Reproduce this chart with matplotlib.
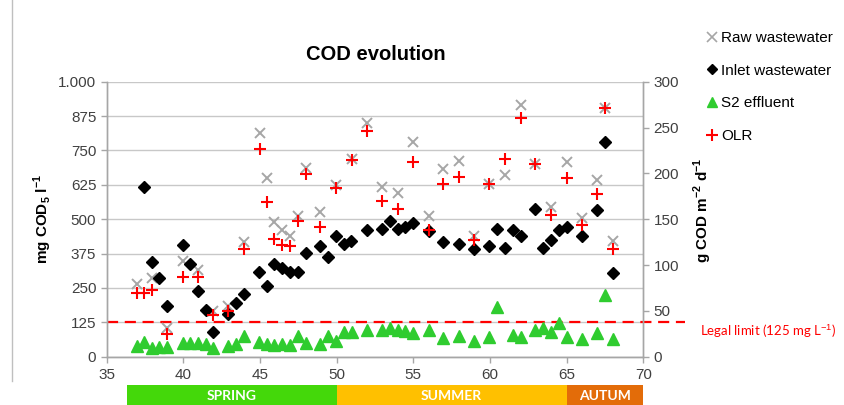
import matplotlib
matplotlib.use("Agg")
import matplotlib.pyplot as plt
from matplotlib.lines import Line2D

# ---------------- data ----------------
raw_x = [36.96, 37.93, 38.91, 39.96, 40.98, 41.96, 42.93, 43.96, 45.0, 45.48, 45.93, 46.45,
         46.96, 47.48, 48.0, 48.93, 49.96, 50.98, 51.96, 52.96, 54.0, 55.0, 56.0, 56.96,
         57.96, 58.96, 59.96, 60.96, 62.0, 62.96, 64.0, 65.0, 66.0, 66.96, 67.5, 68.05]
raw_y = [265, 286, 103, 349, 315, 168, 183, 418, 812, 649, 489, 459,
         440, 512, 687, 527, 625, 718, 849, 618, 596, 782, 512, 683,
         713, 440, 628, 662, 914, 701, 546, 709, 505, 643, 903, 422]

inlet_x = [37.43, 37.93, 38.43, 38.95, 39.96, 40.43, 40.93, 41.46, 41.96, 42.93, 43.43, 43.96,
           44.96, 45.48, 45.93, 46.45, 46.96, 47.45, 48.0, 48.93, 49.43, 49.96, 50.46, 50.96,
           51.96, 52.96, 53.48, 54.0, 54.48, 55.0, 56.0, 56.96, 57.96, 58.96, 59.96, 60.48,
           60.96, 61.48, 62.0, 62.96, 63.48, 64.0, 64.5, 65.0, 66.0, 66.96, 67.5, 68.05]
inlet_y = [616, 346, 287, 183, 406, 337, 239, 169, 89, 155, 194, 227,
           307, 256, 337, 322, 309, 307, 376, 403, 364, 440, 410, 420,
           461, 466, 492, 466, 473, 485, 456, 418, 410, 393, 404, 466,
           394, 460, 440, 538, 396, 424, 462, 473, 440, 533, 780, 305]

s2_x = [36.96, 37.43, 37.93, 38.43, 38.95, 39.96, 40.43, 40.93, 41.46, 41.96, 42.93, 43.43,
        43.96, 44.96, 45.46, 45.93, 46.45, 46.96, 47.48, 48.0, 48.93, 49.43, 49.96, 50.48,
        50.98, 51.96, 52.96, 53.48, 54.0, 54.48, 55.0, 56.0, 56.96, 57.96, 58.96, 59.96,
        60.48, 61.48, 62.0, 62.96, 63.48, 64.0, 64.53, 65.0, 66.0, 66.96, 67.5, 68.05]
s2_y = [40, 52, 30, 36, 36, 51, 51, 51, 45, 30, 40, 45,
        76, 55, 45, 43, 45, 43, 75, 49, 45, 76, 58, 91,
        90, 97, 97, 103, 97, 95, 87, 97, 69, 75, 58, 70,
        180, 78, 73, 97, 103, 89, 124, 73, 63, 85, 224, 63]

olr_x = [36.96, 37.43, 37.93, 38.91, 39.96, 40.98, 41.96, 42.93, 43.96, 45.0, 45.48, 45.93,
         46.45, 46.96, 47.48, 48.0, 48.93, 49.96, 50.98, 51.96, 52.96, 54.0, 55.0, 56.0,
         56.96, 57.96, 58.96, 59.96, 60.96, 62.0, 62.96, 64.0, 65.0, 66.0, 66.96, 67.5, 68.05]
olr_y = [69, 69, 73, 25, 87, 87, 45, 50, 118, 227, 169, 128,
         122, 121, 148, 199, 142, 184, 215, 246, 170, 161, 212, 138,
         188, 196, 127, 188, 216, 260, 210, 155, 195, 144, 177, 271, 117]

legal_limit = 125
legal_label = "Legal limit (125 mg L$^{-1}$)"

left_ticks = [0, 125, 250, 375, 500, 625, 750, 875, 1000]
left_tick_labels = ["0", "125", "250", "375", "500", "625", "750", "875", "1.000"]
right_ticks = [0, 50, 100, 150, 200, 250, 300]
x_ticks = [35, 40, 45, 50, 55, 60, 65, 70]

season_names = ["SPRING", "SUMMER", "AUTUM"]
season_start = [36.35, 50, 65]
season_end = [50, 65, 70]
season_colors = ["#44d80a", "#ffc000", "#e36c09"]

# ---------------- style ----------------
plt.rcParams['font.family'] = ['Liberation Sans', 'DejaVu Sans']
plt.rcParams['mathtext.fontset'] = 'custom'
plt.rcParams['mathtext.rm'] = 'Liberation Sans'
plt.rcParams['mathtext.bf'] = 'Liberation Sans:bold'
tick_col = "#404040"
axis_col = "#a6a6a6"
grid_col = "#c8c8c8"

fig = plt.figure(figsize=(8.45, 4.05), dpi=100)
L, B, W, H = 106.7 / 845, 1 - 356.7 / 405, (643.3 - 106.7) / 845, (356.7 - 81.7) / 405
ax = fig.add_axes([L, B, W, H])
ax2 = ax.twinx()

ax.set_xlim(35, 70)
ax.set_ylim(0, 1000)
ax2.set_ylim(0, 300)

ax.set_xticks(x_ticks)
ax.set_yticks(left_ticks)
ax.set_yticklabels(left_tick_labels)
ax2.set_yticks(right_ticks)

for a in (ax, ax2):
    a.spines['top'].set_visible(False)
    for s in ('left', 'right', 'bottom'):
        a.spines[s].set_color(axis_col)
        a.spines[s].set_linewidth(1.0)
    a.tick_params(colors=axis_col, labelcolor=tick_col, labelsize=11, length=4, width=1)
ax.tick_params(axis='x', pad=4)

ax.yaxis.grid(True, color=grid_col, linewidth=1.0)
ax.set_axisbelow(True)

ax.plot(raw_x, raw_y, linestyle='none', marker='x', markersize=7.5, mew=1.4,
        color="#a6a6a6", zorder=3)
ax.plot(inlet_x, inlet_y, linestyle='none', marker='D', markersize=6.3,
        color="black", zorder=3)
ax.plot(s2_x, s2_y, linestyle='none', marker='^', markersize=8,
        color="#2fcc2f", zorder=3)
ax2.plot(olr_x, olr_y, linestyle='none', marker='+', markersize=8, mew=1.5,
         color="#ff0000", zorder=4)

# legal limit
ax.plot([35, 72.7], [legal_limit, legal_limit], linestyle=(0, (5, 3)), color="#ff0000",
        linewidth=1.6, clip_on=False, zorder=2)
fig.text(700 / 845, 1 - 331 / 405, legal_label, color="#ff0000", fontsize=9.5,
         family=['Lato', 'DejaVu Sans'], va='center', ha='left')

# title & axis labels
fig.text(376 / 845, 1 - 55 / 405, "COD evolution", fontsize=14.5, fontweight='bold',
         ha='center', va='center', color='black')
fig.text(43 / 845, 1 - 219 / 405, r"mg COD$_\mathbf{5}$ l$^\mathbf{-1}$", rotation=90,
         fontsize=11, fontweight='bold', ha='center', va='center')
fig.text(703 / 845, 1 - 210 / 405, r"g COD m$^\mathbf{-2}$ d$^\mathbf{-1}$", rotation=90,
         fontsize=11, fontweight='bold', ha='center', va='center')

# legend
handles = [
    Line2D([], [], linestyle='none', marker='x', markersize=7, mew=1.2, color="#a6a6a6"),
    Line2D([], [], linestyle='none', marker='D', markersize=5.5, color="black"),
    Line2D([], [], linestyle='none', marker='^', markersize=7.5, color="#2fcc2f"),
    Line2D([], [], linestyle='none', marker='+', markersize=8, mew=1.5, color="#ff0000"),
]
labels = ["Raw wastewater", "Inlet wastewater", "S2 effluent", "OLR"]
fig.legend(handles, labels, loc='upper left', bbox_to_anchor=(706 / 845, 1 - 31 / 405),
           frameon=False, fontsize=11, handlelength=0.8, handletextpad=0.2,
           labelspacing=1.22, borderaxespad=0, borderpad=0)

# seasons bar
sax = fig.add_axes([L, 0, W, 20 / 405])
sax.set_xlim(35, 70)
sax.set_ylim(0, 1)
sax.axis('off')
for name, s, e, c in zip(season_names, season_start, season_end, season_colors):
    sax.axvspan(s, e, color=c, lw=0)
    sax.text((s + e) / 2, 0.45, name, color='white', fontweight='bold', fontsize=10,
             family=['Lato', 'DejaVu Sans'], ha='center', va='center')

# chart border line at left
fig.add_artist(Line2D([12 / 845, 12 / 845], [0.06, 1], color="#bfbfbf", lw=1.0))

fig.savefig("out.png", dpi=100)
